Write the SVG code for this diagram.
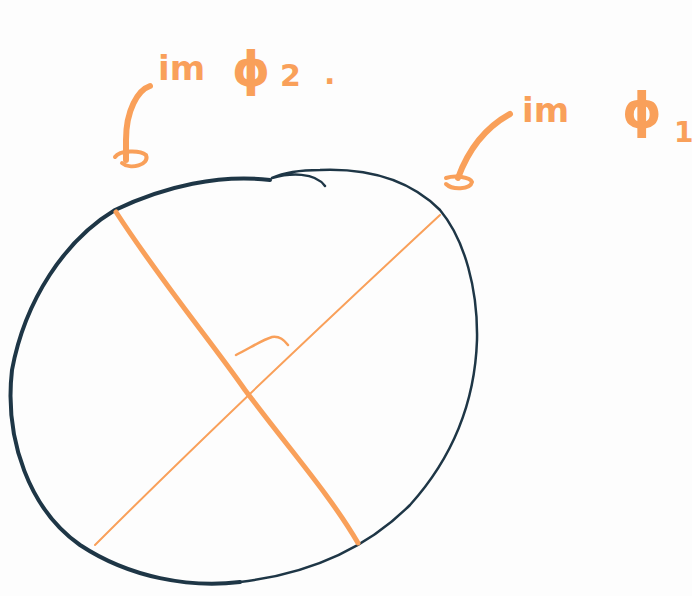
<svg xmlns="http://www.w3.org/2000/svg" width="692" height="596" viewBox="0 0 692 596">
<style>
.o{fill:none;stroke:#F9A05A;stroke-linecap:round;stroke-linejoin:round}
.n{fill:none;stroke:#1E3646;stroke-linecap:round;stroke-linejoin:round}
.t{font-family:"DejaVu Sans","Noto Sans",sans-serif;fill:#F9A05A;font-weight:bold}
</style>
<rect width="692" height="596" fill="#FDFDFD"/>
<g id="circle">
<path class="n" stroke-width="4" d="M270,180 C220,174 165,186 115,210 C65,240 25,300 12,370 C4,440 30,510 80,545 C130,578 190,588 240,582"/>
<path class="n" stroke-width="2.5" d="M240,582 C300,575 360,555 410,505 C455,455 475,400 477,340 C478,290 465,240 440,210 C410,180 370,168 320,170 C300,170 285,172 272,178 C290,173 315,172 325,186"/>
</g>
<g id="lines">
<path class="o" stroke-width="5" d="M116,212 C160,280 210,340 245,390 C290,450 330,495 358,543"/>
<path class="o" stroke-width="2" d="M95,545 C180,460 300,345 440,215"/>
<path class="o" stroke-width="2.5" d="M236,355 C250,348 262,340 272,337 C280,336 284,340 288,345"/>
</g>
<g id="connectors">
<path class="o" stroke-width="6" d="M150,86 C138,90 126,110 126,140 L126,160"/>
<path class="o" stroke-width="4" d="M115,157 C120,150 140,150 146,155 C150,165 130,170 122,163"/>
<path class="o" stroke-width="6" d="M510,114 C490,125 470,145 458,178"/>
<path class="o" stroke-width="4" d="M446,178 C455,175 470,177 472,182 C470,190 452,190 446,184"/>
</g>
<g id="label-phi2">
<text class="t" x="158" y="80" font-size="34">im</text>
<text class="t" x="232" y="86" font-size="48">ϕ</text>
<text class="t" x="280" y="86" font-size="30">2</text>
<text class="t" x="324" y="84" font-size="30">.</text>
</g>
<g id="label-phi1">
<text class="t" x="522" y="122" font-size="34">im</text>
<text class="t" x="622" y="128" font-size="50">ϕ</text>
<text class="t" x="674" y="142" font-size="28">1</text>
</g>
</svg>
